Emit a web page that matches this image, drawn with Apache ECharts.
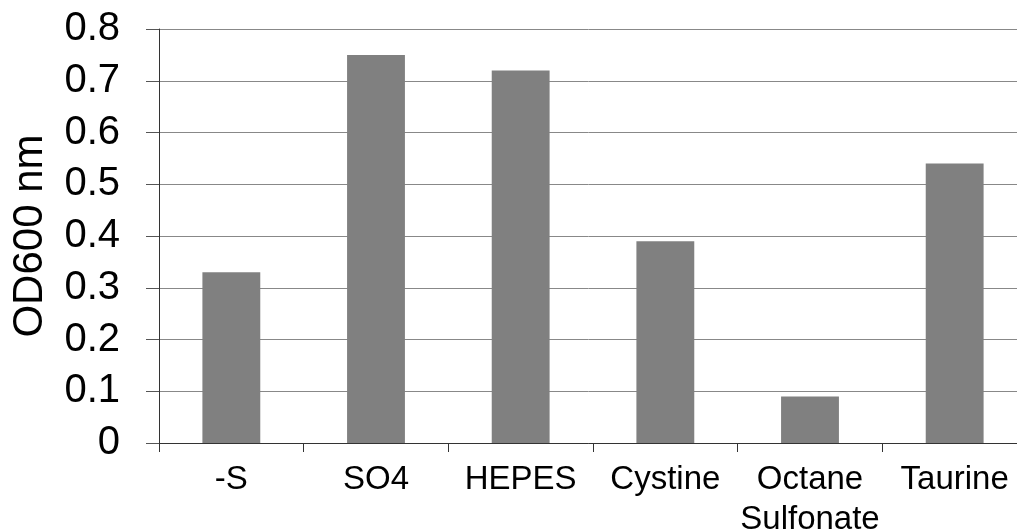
<!DOCTYPE html>
<html>
<head>
<meta charset="utf-8">
<script src="https://cdn.jsdelivr.net/npm/echarts@6/dist/echarts.min.js"></script>
<style>html,body{margin:0;padding:0;background:#fff}#c{width:1017px;height:531px}</style>
</head>
<body>
<div id="c"></div>
<script>
const categories = ['-S', 'SO4', 'HEPES', 'Cystine', 'Octane\nSulfonate', 'Taurine'];
const od600 = [0.33, 0.75, 0.72, 0.39, 0.09, 0.54];
const yTicks = { min: 0, max: 0.8, interval: 0.1 };
const yTitle = 'OD600 nm';

const chart = echarts.init(document.getElementById('c'), null, { renderer: 'canvas' });
const font = 'Liberation Sans, Arial, sans-serif';
chart.setOption({
  animation: false,
  backgroundColor: '#ffffff',
  grid: { left: 159, right: -10, top: 29, bottom: 88, containLabel: false, outerBoundsMode: 'none' },
  xAxis: {
    type: 'category',
    data: categories,
    boundaryGap: true,
    axisLine: { lineStyle: { color: '#333333', width: 1 } },
    axisTick: { show: true, length: 9, lineStyle: { color: '#333333' } },
    axisLabel: { color: '#000', fontFamily: font, fontSize: 33, lineHeight: 40, margin: 17, interval: 0 },
    splitLine: { show: false }
  },
  yAxis: {
    type: 'value',
    min: yTicks.min, max: yTicks.max, interval: yTicks.interval,
    name: yTitle,
    nameLocation: 'middle',
    nameGap: 108,
    nameRotate: 90,
    nameTextStyle: { color: '#000', fontFamily: font, fontSize: 42 },
    axisLine: { show: true, lineStyle: { color: '#333333', width: 1 } },
    axisTick: { show: true, length: 13, lineStyle: { color: '#555555' } },
    axisLabel: { color: '#000', fontFamily: font, fontSize: 40, margin: 39,
      formatter: v => (Math.round(v * 10) / 10).toString() },
    splitLine: { show: true, lineStyle: { color: '#888888', width: 1 } }
  },
  series: [{
    type: 'bar',
    data: od600,
    barWidth: '40%',
    itemStyle: { color: '#808080' }
  }]
});
</script>
</body>
</html>
